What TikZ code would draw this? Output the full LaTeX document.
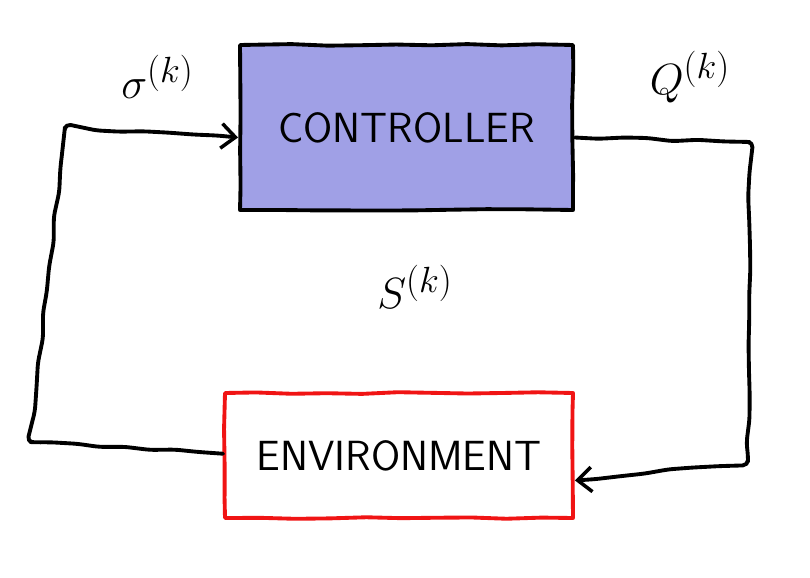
\documentclass[tikz,border=0pt]{standalone}
\usetikzlibrary{arrows.meta,decorations.pathmorphing}
\definecolor{ctrlfill}{RGB}{160,160,230}
\definecolor{envline}{RGB}{240,20,20}

\begin{document}
\begin{tikzpicture}[
  >={Straight Barb[length=8pt,width=14pt,line width=2pt]},
  font=\sffamily,
  sketch/.style={
    line width=2.2pt, line cap=round, line join=round,
    decorate, decoration={random steps, segment length=14pt, amplitude=0.9pt},
    rounded corners=3pt
  },
  blockbox/.style={
    rectangle, line width=2.2pt, line join=round, align=center,
    decorate, decoration={random steps, segment length=20pt, amplitude=0.6pt},
    font=\sffamily\fontsize{24}{28}\selectfont
  },
  sigtext/.style={font=\fontsize{30}{34}\selectfont}
]
\pgfmathsetseed{11}
\useasboundingbox (0,0) rectangle (16.2,11.54);

% blocks
\node[blockbox, draw=black, fill=ctrlfill, minimum width=6.66cm, minimum height=3.3cm]
  (ctrl) at (8.13,8.99) {CONTROLLER};
\node[blockbox, draw=envline, fill=white, minimum width=6.96cm, minimum height=2.5cm]
  (env) at (7.98,2.43) {ENVIRONMENT};

% loop corners
\coordinate (lowleft) at (0.6,2.7);
\coordinate (upleft) at (1.3,9.0);
\coordinate (upright) at (15.0,8.7);
\coordinate (lowright) at (14.96,2.3);

% observation path
\draw[sketch, ->] ([yshift=1pt]env.west) -- (lowleft) -- (upleft)
  -- ([yshift=-0.2cm]ctrl.west);

% action path
\draw[sketch, ->] ([yshift=-0.2cm]ctrl.east) -- (upright) -- (lowright)
  -- ([yshift=-0.5cm]env.east);

% labels
\node[sigtext] (sigma) at (3.15,10.0) {$\sigma^{(k)}$};
\node[sigtext] (qval) at (13.8,10.0) {$Q^{(k)}$};
\node[sigtext] (state) at (8.3,5.8) {$S^{(k)}$};

\end{tikzpicture}
\end{document}
